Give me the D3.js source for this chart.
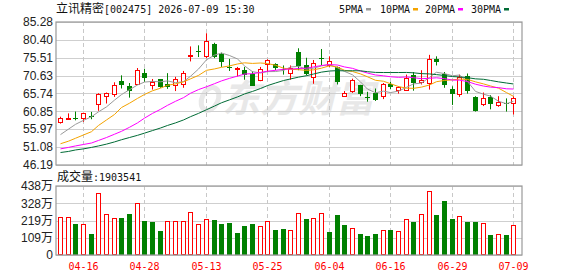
<!DOCTYPE html>
<html>
<head>
<meta charset="utf-8">
<script src="https://cdn.jsdelivr.net/npm/d3@7"></script>
<style>
  body { margin: 0; background: #fff; }
  svg { display: block; }
</style>
</head>
<body>
<svg id="kline" width="578" height="276"></svg>
<script>
var stockName = '立讯精密';
var stockInfo = '[002475] 2026-07-09 15:30';
var volName = '成交量';
var lastVolume = '1903541';

var dates = ['04-13','04-14','04-15','04-16','04-17','04-20','04-21','04-22','04-23','04-24',
  '04-27','04-28','04-29','04-30','05-06','05-07','05-08','05-11','05-12','05-13',
  '05-14','05-15','05-18','05-19','05-20','05-21','05-22','05-25','05-26','05-27',
  '05-28','05-29','06-01','06-02','06-03','06-04','06-05','06-08','06-09','06-10',
  '06-11','06-12','06-15','06-16','06-17','06-18','06-22','06-23','06-24','06-25',
  '06-26','06-29','06-30','07-01','07-02','07-03','07-06','07-07','07-08','07-09'];

var open = [57.9, 59.0, 59.0, 58.9, 59.7, 63.0, 65.2, 65.7, 69.1, 67.8,
  68.2, 71.3, 68.3, 69.6, 68.2, 68.0, 68.4, 76.0, 77.4, 76.0,
  79.4, 76.6, 73.0, 72.3, 72.2, 71.2, 69.5, 73.7, 73.9, 72.3,
  71.3, 77.2, 73.4, 70.3, 75.4, 73.6, 73.0, 65.1, 66.5, 68.0,
  64.9, 65.9, 65.0, 68.2, 66.8, 66.6, 70.7, 68.7, 68.7, 75.3,
  71.2, 67.1, 65.6, 70.4, 64.8, 62.7, 64.8, 62.6, 63.1, 63.0];
var high = [59.4, 60.3, 60.8, 60.5, 60.7, 65.8, 66.0, 68.8, 70.7, 68.6,
  72.7, 72.5, 69.7, 69.7, 71.3, 70.3, 71.9, 78.6, 78.9, 82.2,
  79.6, 76.9, 75.2, 73.0, 73.0, 71.8, 73.0, 75.1, 74.0, 73.4,
  73.4, 78.1, 75.5, 74.9, 77.9, 75.9, 73.1, 66.4, 69.8, 68.1,
  66.2, 67.1, 68.6, 68.9, 67.7, 70.9, 71.6, 72.1, 76.3, 75.9,
  71.6, 67.7, 70.9, 71.2, 65.0, 66.0, 65.3, 65.0, 64.4, 65.0];
var low = [57.5, 58.5, 58.4, 58.0, 58.7, 61.0, 63.0, 64.8, 67.1, 64.6,
  68.2, 68.9, 66.8, 67.3, 67.0, 66.4, 67.3, 74.5, 75.7, 75.4,
  75.4, 73.0, 71.9, 70.4, 69.5, 68.0, 69.1, 71.6, 72.1, 70.9,
  69.5, 72.1, 70.7, 68.4, 73.5, 73.0, 68.2, 64.8, 65.9, 65.0,
  63.5, 63.7, 64.2, 66.9, 65.7, 66.5, 66.5, 68.2, 66.8, 73.4,
  67.3, 62.6, 64.8, 65.7, 60.8, 62.3, 61.4, 62.1, 60.8, 60.0];
var close = [59.0, 59.1, 58.9, 60.3, 59.6, 65.7, 65.9, 68.1, 67.9, 66.3,
  72.1, 69.9, 69.0, 67.4, 67.5, 69.6, 71.4, 76.3, 77.3, 80.2,
  75.9, 74.3, 72.9, 72.6, 70.7, 68.0, 72.5, 74.8, 72.7, 72.2,
  72.7, 73.4, 70.9, 74.1, 75.3, 74.6, 68.9, 66.0, 69.4, 65.6,
  64.8, 63.9, 68.2, 67.4, 67.6, 70.0, 68.6, 69.3, 75.2, 74.6,
  68.2, 65.6, 70.3, 66.4, 61.0, 64.4, 63.0, 63.3, 63.0, 64.4];

// 成交量, 万手
var volume = [241, 241, 199, 197, 135, 394, 260, 235, 237, 262,
  330, 218, 211, 154, 216, 216, 216, 273, 199, 229,
  224, 199, 205, 142, 186, 199, 184, 216, 159, 167,
  159, 267, 229, 235, 267, 148, 256, 192, 171, 135,
  121, 133, 159, 161, 152, 229, 211, 260, 406, 256,
  345, 229, 248, 211, 211, 203, 129, 133, 129, 190.35];

var ma5 = [54.5, 56.0, 57.3, 58.4, 59.38, 60.72, 62.08, 63.92, 65.44, 66.78,
  68.06, 68.86, 69.04, 68.94, 69.18, 68.68, 68.98, 70.44, 72.42, 74.96,
  76.22, 76.8, 76.12, 75.18, 73.28, 71.7, 71.34, 71.72, 71.74, 72.04,
  72.98, 73.16, 72.38, 72.66, 73.28, 73.66, 72.76, 71.78, 70.84, 68.9,
  66.94, 65.94, 66.38, 65.98, 66.38, 67.42, 68.36, 68.58, 70.14, 71.54,
  71.18, 70.58, 70.78, 69.02, 66.3, 65.54, 65.02, 63.62, 62.94, 63.62];
var ma10 = [52.0, 52.7, 53.5, 54.4, 55.3, 57.0, 58.5, 60.0, 61.9, 63.08,
  64.39, 65.47, 66.48, 67.19, 67.98, 68.37, 68.92, 69.74, 70.68, 72.07,
  72.45, 72.89, 73.28, 73.8, 74.12, 73.96, 74.07, 73.92, 73.46, 72.66,
  72.34, 72.25, 72.05, 72.2, 72.66, 73.32, 72.96, 72.08, 71.75, 71.09,
  70.3, 69.35, 69.08, 68.41, 67.64, 67.18, 67.15, 67.48, 68.06, 68.96,
  69.3, 69.47, 69.68, 69.58, 68.92, 68.36, 67.8, 67.2, 65.98, 64.96];
var ma20 = [50.6, 51.0, 51.4, 51.8, 52.2, 52.9, 53.7, 54.6, 55.4, 56.5,
  57.7, 59.0, 60.3, 61.4, 62.5, 63.6, 64.6, 65.8, 66.8, 67.58,
  68.42, 69.18, 69.88, 70.49, 71.05, 71.16, 71.49, 71.84, 72.07, 72.37,
  72.4, 72.57, 72.67, 73.0, 73.39, 73.64, 73.52, 73.0, 72.61, 71.88,
  71.32, 70.8, 70.57, 70.31, 70.15, 70.25, 70.06, 69.78, 69.9, 70.03,
  69.8, 69.41, 69.38, 69.0, 68.28, 67.77, 67.48, 67.34, 67.02, 66.96];
var ma30 = [49.6, 49.9, 50.3, 50.6, 51.0, 51.4, 51.9, 52.5, 53.1, 53.7,
  54.3, 54.9, 55.6, 56.3, 57.0, 57.7, 58.5, 59.4, 60.3, 61.3,
  62.3, 63.2, 64.0, 64.8, 65.6, 66.3, 67.1, 67.9, 68.6, 69.28,
  69.72, 70.2, 70.6, 71.06, 71.58, 71.88, 71.98, 71.92, 71.96, 71.94,
  71.7, 71.5, 71.47, 71.47, 71.47, 71.49, 71.39, 71.16, 71.09, 70.9,
  70.65, 70.36, 70.27, 70.06, 69.74, 69.62, 69.3, 68.92, 68.6, 68.34];

var maNames = ['5PMA', '10PMA', '20PMA', '30PMA'];
var priceTicks = ['46.19', '51.08', '55.97', '60.85', '65.74', '70.63', '75.51', '80.40', '85.28'];
var volTicks = ['0', '109万', '219万', '328万', '438万'];
var tickDates = ['04-16', '04-28', '05-13', '05-25', '06-04', '06-16', '06-29', '07-09'];

var left = 56, right = 522;
var priceTop = 22, priceBottom = 165;
var volTop = 186, volBottom = 255;
var red = '#ff0000', green = '#008000';
var maColors = ['#9a9a9a', '#f4a300', '#ff00ff', '#006b35'];
var axisFont = '"Liberation Sans", Arial, "Noto Sans CJK SC", sans-serif';
var monoFont = '"DejaVu Sans Mono", monospace';
var cjkFont = '"Noto Sans CJK SC", sans-serif';

var svg = d3.select('#kline');

var x = d3.scaleBand().domain(dates)
  .range([56.5, 517.6])
  .paddingInner(0.35).paddingOuter(0.175);
function cx(d) { return Math.floor(x(d) + x.bandwidth() / 2) + 0.5; }
function crisp(v) { return Math.round(v) + 0.5; }

var y = d3.scaleLinear()
  .domain([+priceTicks[0], +priceTicks[priceTicks.length - 1]])
  .range([priceBottom, priceTop]);
var yv = d3.scaleLinear()
  .domain([0, parseFloat(volTicks[volTicks.length - 1])])
  .range([volBottom, volTop]);

var bars = dates.map(function(d, i) {
  return { date: d, o: open[i], h: high[i], l: low[i], c: close[i], v: volume[i],
    up: close[i] >= open[i], volUp: i === 0 || close[i] >= close[i - 1] };
});

// watermark (logo ring + name)
var wm = svg.append('g').attr('fill', '#e8e8e8');
wm.append('ellipse')
  .attr('cx', 210).attr('cy', 99).attr('rx', 8).attr('ry', 12)
  .attr('transform', 'rotate(25,210,99)')
  .attr('fill', 'none').attr('stroke', '#e8e8e8').attr('stroke-width', 5);
wm.append('text')
  .attr('x', 222).attr('y', 112)
  .attr('font-family', cjkFont).attr('font-weight', 'bold')
  .attr('font-size', 38).attr('font-style', 'italic')
  .text('东方财富');

// ---- price panel grid ----
var gPrice = svg.append('g');
gPrice.selectAll('line.h').data(priceTicks).enter().append('line')
  .attr('x1', left).attr('x2', right)
  .attr('y1', function(t) { return crisp(y(+t)); })
  .attr('y2', function(t) { return crisp(y(+t)); })
  .attr('stroke', '#cfcfcf');
gPrice.selectAll('line.v').data(tickDates).enter().append('line')
  .attr('x1', cx).attr('x2', cx)
  .attr('y1', priceTop).attr('y2', priceBottom)
  .attr('stroke', '#c8c8c8').attr('stroke-dasharray', '4,3');

var gVol = svg.append('g');
gVol.selectAll('line.h').data(volTicks).enter().append('line')
  .attr('x1', left).attr('x2', right)
  .attr('y1', function(t) { return crisp(yv(parseFloat(t))); })
  .attr('y2', function(t) { return crisp(yv(parseFloat(t))); })
  .attr('stroke', '#cfcfcf');
gVol.selectAll('line.v').data(tickDates).enter().append('line')
  .attr('x1', cx).attr('x2', cx)
  .attr('y1', volTop).attr('y2', volBottom)
  .attr('stroke', '#c8c8c8').attr('stroke-dasharray', '4,3');

// ---- axis labels ----
svg.append('g').selectAll('text').data(priceTicks).enter().append('text')
  .attr('x', 53).attr('y', function(t) { return y(+t); })
  .attr('dy', '0.35em').attr('text-anchor', 'end')
  .attr('font-family', axisFont).attr('font-size', 12).attr('fill', '#222')
  .text(function(t) { return t; });
svg.append('g').selectAll('text').data(volTicks).enter().append('text')
  .attr('x', 53).attr('y', function(t) { return yv(parseFloat(t)); })
  .attr('dy', '0.35em').attr('text-anchor', 'end')
  .attr('font-family', axisFont).attr('font-size', 12).attr('fill', '#222')
  .text(function(t) { return t; });
svg.append('g').selectAll('text').data(tickDates).enter().append('text')
  .attr('x', cx).attr('y', 270).attr('text-anchor', 'middle')
  .attr('font-family', monoFont).attr('font-size', 10).attr('fill', red)
  .text(function(t) { return t; });

// ---- candles ----
var gCandle = svg.append('g');
gCandle.selectAll('line').data(bars).enter().append('line')
  .attr('x1', function(d) { return cx(d.date); })
  .attr('x2', function(d) { return cx(d.date); })
  .attr('y1', function(d) { return y(d.h); })
  .attr('y2', function(d) { return y(d.l); })
  .attr('stroke', function(d) { return d.up ? red : green; });
gCandle.selectAll('rect').data(bars).enter().append('rect')
  .attr('x', function(d) { return d.up ? cx(d.date) - 2 : cx(d.date) - 2.5; })
  .attr('width', function(d) { return d.up ? 4 : 5; })
  .attr('y', function(d) { return Math.round(y(Math.max(d.o, d.c))) + (d.up ? 0.5 : 0); })
  .attr('height', function(d) { return Math.max(Math.round(Math.abs(y(d.o) - y(d.c))), 1); })
  .attr('fill', function(d) { return d.up ? '#fff' : green; })
  .attr('stroke', function(d) { return d.up ? red : 'none'; });

// ---- moving averages ----
var line = d3.line()
  .x(function(v, i) { return cx(dates[i]); })
  .y(function(v) { return y(v); });
svg.append('g').selectAll('path').data([ma5, ma10, ma20, ma30]).enter().append('path')
  .attr('d', line)
  .attr('fill', 'none')
  .attr('stroke', function(d, i) { return maColors[i]; })
  .attr('stroke-width', 1);

// ---- volume ----
svg.append('g').selectAll('rect').data(bars).enter().append('rect')
  .attr('x', function(d) { return d.volUp ? cx(d.date) - 2 : cx(d.date) - 2.5; })
  .attr('width', function(d) { return d.volUp ? 4 : 5; })
  .attr('y', function(d) { return Math.round(yv(d.v)) + (d.volUp ? 0.5 : 0); })
  .attr('height', function(d) { return Math.round(volBottom - yv(d.v)) - (d.volUp ? 1 : 0); })
  .attr('fill', function(d) { return d.volUp ? '#fff' : green; })
  .attr('stroke', function(d) { return d.volUp ? red : 'none'; });

// ---- frames ----
svg.append('rect')
  .attr('x', left).attr('y', priceTop)
  .attr('width', right - left).attr('height', priceBottom - priceTop)
  .attr('fill', 'none').attr('stroke', '#999').attr('stroke-width', 1.2);
svg.append('rect')
  .attr('x', left).attr('y', volTop)
  .attr('width', right - left).attr('height', volBottom - volTop)
  .attr('fill', 'none').attr('stroke', '#999').attr('stroke-width', 1.2);

// ---- title ----
var title = svg.append('text').attr('x', 56).attr('y', 13).attr('fill', '#111');
title.append('tspan').attr('font-family', cjkFont).attr('font-size', 12).text(stockName);
title.append('tspan').attr('font-family', monoFont).attr('font-size', 10).text(stockInfo);

var volTitle = svg.append('text').attr('x', 57).attr('y', 181).attr('fill', '#111');
volTitle.append('tspan').attr('font-family', cjkFont).attr('font-size', 12).text(volName);
volTitle.append('tspan').attr('font-family', monoFont).attr('font-size', 10).text(':' + lastVolume);

// ---- legend ----
var legendX = [339, 380, 425, 471];
var legend = svg.append('g').selectAll('g').data(maNames).enter().append('g')
  .attr('transform', function(d, i) { return 'translate(' + legendX[i] + ',0)'; });
legend.append('text')
  .attr('y', 13)
  .attr('font-family', monoFont).attr('font-size', 10).attr('fill', '#111')
  .text(function(d) { return d; });
legend.append('rect')
  .attr('x', function(d) { return d.length * 6 + 3; })
  .attr('y', 8).attr('width', 5).attr('height', 2.5)
  .attr('fill', function(d, i) { return maColors[i]; });
</script>
</body>
</html>
